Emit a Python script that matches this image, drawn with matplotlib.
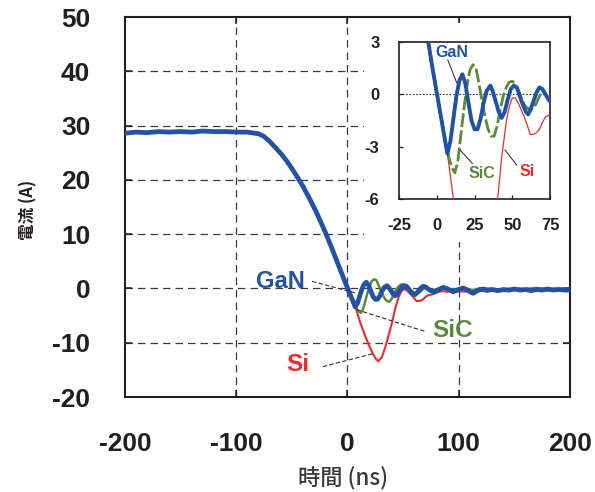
import matplotlib
matplotlib.use('Agg')
import matplotlib.pyplot as plt

plt.rcParams['font.family'] = ['Liberation Sans', 'Noto Sans CJK JP']
plt.rcParams['axes.unicode_minus'] = False

# Wellenformen beim Abschalten (Zeit in ns, Strom in A)
zeit_gan = [-200, -190, -180, -170, -160, -150, -140, -130, -120, -110, -100, -90,
            -80, -75, -70, -65, -60, -55, -50, -45, -40, -35, -30, -25, -20, -15,
            -10, -6, -3, 0, 3, 5, 7, 9, 11, 13, 15, 17, 19, 21, 23, 25, 27, 29,
            31, 33, 35.5, 37, 39, 41, 43, 45, 47, 49, 51, 53, 55, 57, 59, 60.5,
            62, 64, 66, 68, 70, 72, 74, 76, 78, 80, 83, 86, 89, 92, 95, 98, 101,
            104, 107, 110, 113, 116, 119, 122, 126, 130, 135, 140, 145, 150, 155,
            160, 165, 170, 175, 180, 185, 190, 195, 200]
strom_gan = [28.6, 28.8, 28.7, 28.9, 28.8, 28.9, 28.8, 29.0, 28.9, 28.9, 28.8, 28.8,
             28.5, 28.0, 27.1, 26.0, 24.9, 23.6, 22.1, 20.5, 18.8, 16.9, 14.9, 12.7,
             10.4, 7.9, 5.3, 3.2, 1.6, 0.1, -1.4, -2.4, -3.4, -2.7, -1.4, -0.1, 0.8,
             1.15, 0.6, -0.5, -1.5, -2.0, -2.0, -1.4, -0.5, 0.2, 0.5, 0.2, -0.4,
             -1.0, -1.35, -1.0, -0.3, 0.3, 0.5, 0.4, -0.1, -0.6, -1.0, -1.15, -0.9,
             -0.4, 0.1, 0.4, 0.3, 0.0, -0.3, -0.5, -0.7, -0.5, -0.1, 0.2, 0.0, -0.3,
             -0.6, -0.4, -0.1, 0.1, -0.2, -0.6, -0.9, -0.5, -0.2, -0.1, -0.3, -0.2,
             -0.4, -0.2, -0.3, -0.1, -0.3, -0.2, -0.4, -0.2, -0.3, -0.1, -0.3, -0.2,
             -0.3, -0.3]

zeit_sic = [-200, -180, -160, -140, -120, -100, -90, -80, -75, -70, -65, -60, -55,
            -50, -45, -40, -35, -30, -25, -20, -15, -10, -6, -3, 0, 3, 6, 8, 10,
            12, 14, 16, 18, 20, 22, 24, 26, 28, 30, 32, 34, 36, 38, 40, 42, 44, 46,
            48, 50, 52, 54, 56, 58, 60, 62, 64, 66, 68, 70, 72, 74, 76, 80, 84, 88,
            92, 96, 100, 105, 110, 115, 120, 130, 140, 150, 160, 170, 180, 190, 200]
strom_sic = [28.7, 28.8, 28.7, 28.9, 28.8, 28.7, 28.7, 28.4, 27.9, 27.0, 25.9, 24.8,
             23.5, 22.0, 20.4, 18.7, 16.8, 14.8, 12.6, 10.3, 7.8, 5.2, 3.1, 1.5, 0.0,
             -1.4, -2.8, -3.6, -4.2, -4.5, -3.8, -2.3, -0.8, 0.5, 1.4, 1.7, 1.5, 0.6,
             -0.4, -1.3, -2.0, -2.4, -2.4, -1.8, -0.9, -0.1, 0.4, 0.7, 0.75, 0.6, 0.2,
             -0.2, -0.6, -0.8, -0.85, -0.8, -0.5, -0.1, 0.2, 0.0, -0.2, -0.3, -0.1,
             0.1, -0.1, -0.3, -0.2, 0.0, -0.1, -0.3, -0.2, 0.0, -0.1, -0.2, 0.0, -0.1,
             0.1, -0.1, 0.0, -0.1]

zeit_si = [-200, -180, -160, -140, -120, -100, -90, -80, -75, -70, -65, -60, -55,
           -50, -45, -40, -35, -30, -25, -20, -15, -10, -6, -3, 0, 3, 6, 8.2, 11,
           14, 17, 20, 23, 26, 28, 31, 34, 37, 40, 43, 46, 48, 50, 52, 54, 56, 58,
           60, 62, 64, 66, 68, 70, 72, 74, 76, 78, 80, 85, 90, 95, 100, 105, 110,
           115, 120, 125, 130, 140, 150, 160, 170, 180, 190, 200]
strom_si = [28.7, 28.8, 28.8, 28.8, 28.9, 28.7, 28.7, 28.4, 27.9, 27.0, 25.9, 24.8,
            23.5, 22.0, 20.4, 18.7, 16.8, 14.8, 12.6, 10.3, 7.8, 5.2, 3.1, 1.5, 0.0,
            -1.4, -2.9, -4.1, -6.0, -7.7, -9.3, -10.8, -12.1, -13.1, -13.4, -12.6,
            -10.8, -8.6, -6.3, -3.6, -1.6, -0.7, -0.2, -0.2, -0.5, -0.9, -1.3, -1.8,
            -2.3, -2.3, -2.2, -2.0, -1.6, -1.3, -1.2, -1.1, -0.9, -0.7, -0.5, -0.6,
            -0.4, -0.5, -0.6, -0.4, -0.5, -0.4, -0.6, -0.4, -0.5, -0.3, -0.4, -0.3,
            -0.4, -0.3, -0.2]

blau = '#2152a6'
gruen = '#5b8a3a'
rot = '#ee2b2b'
textfarbe = '#231f20'

fig = plt.figure(figsize=(5.95, 4.92), dpi=100)
ax = fig.add_axes([0.210, 0.193, 0.748, 0.7724])

ax.plot(zeit_si, strom_si, color=rot, lw=1.5, zorder=3)
ax.plot(zeit_sic, strom_sic, color=gruen, lw=1.8, zorder=4)
ax.plot(zeit_gan, strom_gan, color=blau, lw=3.4, zorder=5)

ax.set_xlim(-200, 200)
ax.set_ylim(-20, 50)
ax.set_xticks([-200, -100, 0, 100, 200])
ax.set_yticks([-20, -10, 0, 10, 20, 30, 40, 50])
for y in [-10, 0, 10, 20, 30, 40]:
    ax.axhline(y, color='#3a3a3a', lw=0.9, ls=(0, (6, 4)), zorder=1)
for x in [-100, 0, 100]:
    ax.axvline(x, color='#3a3a3a', lw=0.9, ls=(0, (6, 4)), zorder=1)

ax.tick_params(direction='in', length=5, width=1.1, top=True, right=True,
               labelsize=19, pad=25, colors=textfarbe)
for lbl in ax.get_xticklabels() + ax.get_yticklabels():
    lbl.set_fontweight('bold')
for sp in ax.spines.values():
    sp.set_linewidth(1.5)
    sp.set_color(textfarbe)

# Achsentitel
fig.text(28 / 595, 1 - 210 / 492, '電流 (A)', family=['Noto Sans CJK JP'],
         fontsize=12, fontweight='bold', color=textfarbe, rotation=90,
         ha='center', va='center')
fig.text(343 / 595, 1 - 478 / 492, '時間 (ns)', family=['Noto Sans CJK JP'],
         fontsize=16, fontweight='medium', color='#3a3a3a',
         ha='center', va='center')

# Beschriftungen mit Hinweislinien
ax.plot([-31.8, 8.5], [1.3, -0.9], color='#333333', lw=0.8, ls=(0, (4, 2)), zorder=6)
ax.plot([8.2, 70.9], [-3.9, -8.0], color='#333333', lw=0.8, ls=(0, (4, 2)), zorder=6)
ax.plot([-22.2, 23.1], [-14.4, -12.0], color='#333333', lw=0.8, ls=(0, (4, 2)), zorder=6)
ax.text(-60.4, 1.3, 'GaN', color=blau, fontsize=17, fontweight='bold',
        ha='center', va='center')
ax.text(94.4, -7.7, 'SiC', color=gruen, fontsize=17.5, fontweight='bold',
        ha='center', va='center')
ax.text(-44.3, -14.0, 'Si', color=rot, fontsize=17.5, fontweight='bold',
        ha='center', va='center')

# weisser Hintergrund hinter dem Ausschnitt
hg = fig.add_axes([0.6118, 0.508, 0.3445, 0.445])
hg.set_facecolor('white')
hg.set_xticks([])
hg.set_yticks([])
for sp in hg.spines.values():
    sp.set_visible(False)

# Ausschnitt um den Nulldurchgang
ins = fig.add_axes([0.6706, 0.5955, 0.2538, 0.3191])
ins.plot(zeit_si, strom_si, color=rot, lw=0.9, zorder=3)
ins.plot(zeit_sic, strom_sic, color=gruen, lw=2.0, ls=(0, (5, 1.2)), zorder=4)
ins.plot(zeit_gan, strom_gan, color=blau, lw=2.8, zorder=5)
ins.axhline(0, color='#333333', lw=0.8, ls=(0, (1.5, 1.5)), zorder=2)
ins.set_xlim(-25, 75)
ins.set_ylim(-6, 3)
ins.set_xticks([-25, 0, 25, 50, 75])
ins.set_yticks([-6, -3, 0, 3])
ins.tick_params(direction='in', length=3, width=0.9, labelsize=12, pad=14,
                colors=textfarbe)
for lbl in ins.get_xticklabels() + ins.get_yticklabels():
    lbl.set_fontweight('bold')
for sp in ins.spines.values():
    sp.set_linewidth(1.2)
    sp.set_color(textfarbe)

ins.plot([7.3, 13.2], [1.97, 0.67], color='#222222', lw=0.7, zorder=6)
ins.plot([23.6, 15.4], [-3.96, -3.19], color='#222222', lw=0.7, zorder=6)
ins.plot([52.9, 45.2], [-4.05, -3.19], color='#222222', lw=0.7, zorder=6)
ins.text(10.3, 2.41, 'GaN', color=blau, fontsize=11.5, fontweight='bold',
         ha='center', va='center', zorder=7)
ins.text(29.8, -4.53, 'SiC', color=gruen, fontsize=11.5, fontweight='bold',
         ha='center', va='center', zorder=7)
ins.text(59.6, -4.44, 'Si', color=rot, fontsize=11.5, fontweight='bold',
         ha='center', va='center', zorder=7)

plt.savefig('out.png', dpi=100)
